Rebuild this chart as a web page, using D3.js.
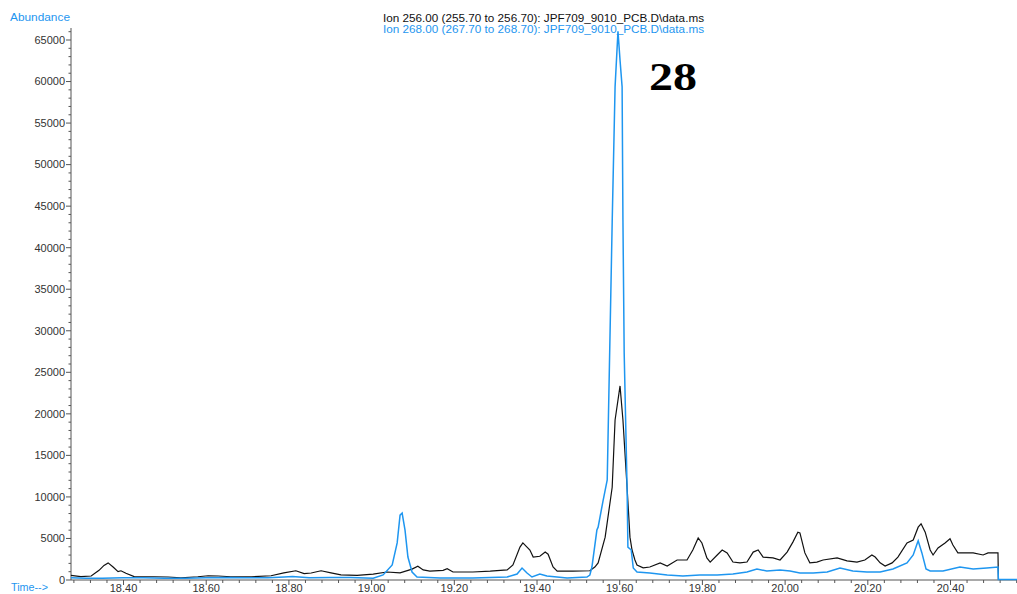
<!DOCTYPE html>
<html><head><meta charset="utf-8">
<script src="https://cdn.jsdelivr.net/npm/d3@7"></script>
<style>body{margin:0;background:#fff}svg{display:block}</style>
</head><body><svg id="c" width="1017" height="594"></svg>
<script>
// Ion 256 (black) trace: [time, abundance]
const ion256Times = [18.274,18.298,18.323,18.342,18.354,18.364,18.376,18.388,18.395,18.407,18.427,18.475,18.509,18.540,18.581,18.606,18.630,18.661,18.710,18.758,18.789,18.818,18.838,18.855,18.879,18.903,18.927,18.966,19.005,19.038,19.070,19.099,19.113,19.126,19.142,19.174,19.184,19.198,19.215,19.246,19.288,19.329,19.343,19.360,19.367,19.384,19.392,19.408,19.421,19.428,19.440,19.450,19.488,19.529,19.541,19.549,19.566,19.583,19.590,19.602,19.609,19.619,19.626,19.631,19.638,19.643,19.658,19.674,19.699,19.716,19.740,19.764,19.778,19.791,19.800,19.812,19.820,19.837,19.849,19.861,19.875,19.892,19.909,19.924,19.936,19.948,19.972,19.989,20.006,20.020,20.032,20.037,20.049,20.061,20.078,20.093,20.127,20.151,20.175,20.194,20.211,20.219,20.231,20.243,20.260,20.274,20.296,20.311,20.323,20.330,20.340,20.352,20.359,20.371,20.388,20.400,20.407,20.419,20.456,20.480,20.492,20.516,20.517];
const ion256Values = [500,350,420,1100,1700,2000,1500,950,1050,750,350,330,300,200,330,450,420,330,330,450,800,1050,700,780,1050,800,550,500,650,900,800,1250,1600,1150,1000,1100,1300,900,900,900,1000,1150,1750,3900,4400,3550,2700,2800,3300,3050,1500,1000,1000,1050,1500,2000,5100,11100,19200,23300,19200,11100,5100,3550,2350,1750,1400,1500,2000,1630,2350,2350,3550,5000,4400,2600,2100,2950,3550,3200,2100,2000,2100,3300,3550,2700,2600,2350,3300,4500,5700,5600,3200,2000,2100,2350,2600,2250,2100,2350,2950,2700,2000,1630,2000,2700,4400,4750,6300,6700,5700,3550,2950,3800,4400,4900,4150,3200,3200,2950,3200,3200,0];
// Ion 268 (blue) trace
const ion268Times = [18.274,18.310,18.350,18.400,18.450,18.500,18.550,18.600,18.650,18.700,18.750,18.790,18.810,18.850,18.900,18.950,19.005,19.029,19.051,19.063,19.070,19.075,19.082,19.089,19.099,19.111,19.167,19.246,19.329,19.353,19.365,19.377,19.389,19.408,19.425,19.474,19.522,19.529,19.534,19.546,19.549,19.561,19.571,19.583,19.590,19.597,19.602,19.607,19.609,19.612,19.619,19.621,19.629,19.634,19.643,19.674,19.716,19.754,19.795,19.837,19.875,19.909,19.933,19.957,19.989,20.013,20.037,20.069,20.103,20.134,20.165,20.199,20.231,20.262,20.296,20.311,20.321,20.323,20.332,20.342,20.352,20.383,20.424,20.456,20.489,20.516,20.517,20.562];
const ion268Values = [200,150,150,200,200,150,150,200,250,200,200,300,350,200,250,250,150,550,1750,4400,7750,8000,5950,2700,900,300,180,180,300,660,1380,780,300,660,420,180,300,540,1500,5950,6300,9500,12000,43000,59300,66000,62500,59300,43300,27300,11100,3900,3550,1380,900,780,540,420,540,540,660,900,1260,1020,1140,1020,780,780,900,1380,1020,900,900,1260,2000,2950,4400,4650,3200,1260,1020,1020,1500,1260,1380,1500,0,0];
const yTicks = [0,5000,10000,15000,20000,25000,30000,35000,40000,45000,50000,55000,60000,65000];
const xTicks = [18.40,18.60,18.80,19.00,19.20,19.40,19.60,19.80,20.00,20.20,20.40];
const title1 = "Ion 256.00 (255.70 to 256.70): JPF709_9010_PCB.D\\data.ms";
const title2 = "Ion 268.00 (267.70 to 268.70): JPF709_9010_PCB.D\\data.ms";
const peakLabel = "28";

const blue = "#1e96f0";
const ff = "Arial, 'Liberation Sans', sans-serif";
const svg = d3.select("#c");
const x = d3.scaleLinear().domain([18.2742, 20.562]).range([71, 1017]);
const y = d3.scaleLinear().domain([0, 66300]).range([579.5, 28.7]);

// y axis
const yAx = d3.axisLeft(y).tickValues(yTicks).tickSize(5).tickFormat(d3.format("d"));
const gy = svg.append("g").attr("transform","translate(71,0)").call(yAx);
gy.select(".domain").attr("stroke","#555").attr("d","M0,28V580");
gy.selectAll(".tick line").attr("stroke","#555");
gy.selectAll(".tick text").attr("fill","#333").attr("font-family",ff).attr("font-size","11px").attr("x",-6).attr("dy","0.35em");
const yMinor = d3.axisLeft(y).tickValues(d3.range(1000,66001,1000).filter(v=>v%5000)).tickSize(2.5).tickFormat("");
svg.append("g").attr("transform","translate(71,0)").call(yMinor).call(g=>{g.select(".domain").remove();g.selectAll("line").attr("stroke","#555");});

// x axis
const xAx = d3.axisBottom(x).tickValues(xTicks).tickSize(5).tickFormat(d3.format(".2f"));
const gx = svg.append("g").attr("transform","translate(0,580)").call(xAx);
gx.select(".domain").attr("stroke","#555").attr("d","M71,0H1017");
gx.selectAll(".tick line").attr("stroke","#555");
gx.selectAll(".tick text").attr("fill","#333").attr("font-family",ff).attr("font-size","11px").attr("y",11.5).attr("dy","0");
const xMinor = d3.axisBottom(x).tickValues(d3.range(18.28,20.57,0.04).filter(v=>Math.abs(((v-18.4)/0.2)-Math.round((v-18.4)/0.2))>0.01)).tickSize(3).tickFormat("");
svg.append("g").attr("transform","translate(0,580)").call(xMinor).call(g=>{g.select(".domain").remove();g.selectAll("line").attr("stroke","#555");});

// lines
const line = d3.line().x(d=>x(d[0])).y(d=>y(d[1]));
const d256 = ion256Times.map((t,i)=>[t,ion256Values[i]]);
const d268 = ion268Times.map((t,i)=>[t,ion268Values[i]]);
svg.append("path").datum(d256).attr("d",line).attr("fill","none").attr("stroke","#111").attr("stroke-width",1.2);
svg.append("path").datum(d268).attr("d",line).attr("fill","none").attr("stroke",blue).attr("stroke-width",1.5);

// texts
svg.append("text").attr("x",10).attr("y",21).attr("fill",blue).attr("font-family",ff).attr("font-size","10.5px").attr("textLength",60).attr("lengthAdjust","spacingAndGlyphs").text("Abundance");
svg.append("text").attr("x",11).attr("y",591).attr("fill",blue).attr("font-family",ff).attr("font-size","10.5px").attr("textLength",37).attr("lengthAdjust","spacingAndGlyphs").text("Time-->");
svg.append("text").attr("x",383).attr("y",22).attr("fill","#111").attr("font-family",ff).attr("font-size","10.5px").attr("textLength",321).attr("lengthAdjust","spacingAndGlyphs").text(title1);
svg.append("text").attr("x",383).attr("y",33).attr("fill",blue).attr("font-family",ff).attr("font-size","10.5px").attr("textLength",321).attr("lengthAdjust","spacingAndGlyphs").text(title2);
svg.append("text").attr("x",649).attr("y",90).attr("fill","#000").attr("font-family","'Liberation Serif', 'Times New Roman', serif").attr("font-weight","bold").attr("font-size","40px").attr("textLength",48).attr("lengthAdjust","spacingAndGlyphs").text(peakLabel);
</script></body></html>
